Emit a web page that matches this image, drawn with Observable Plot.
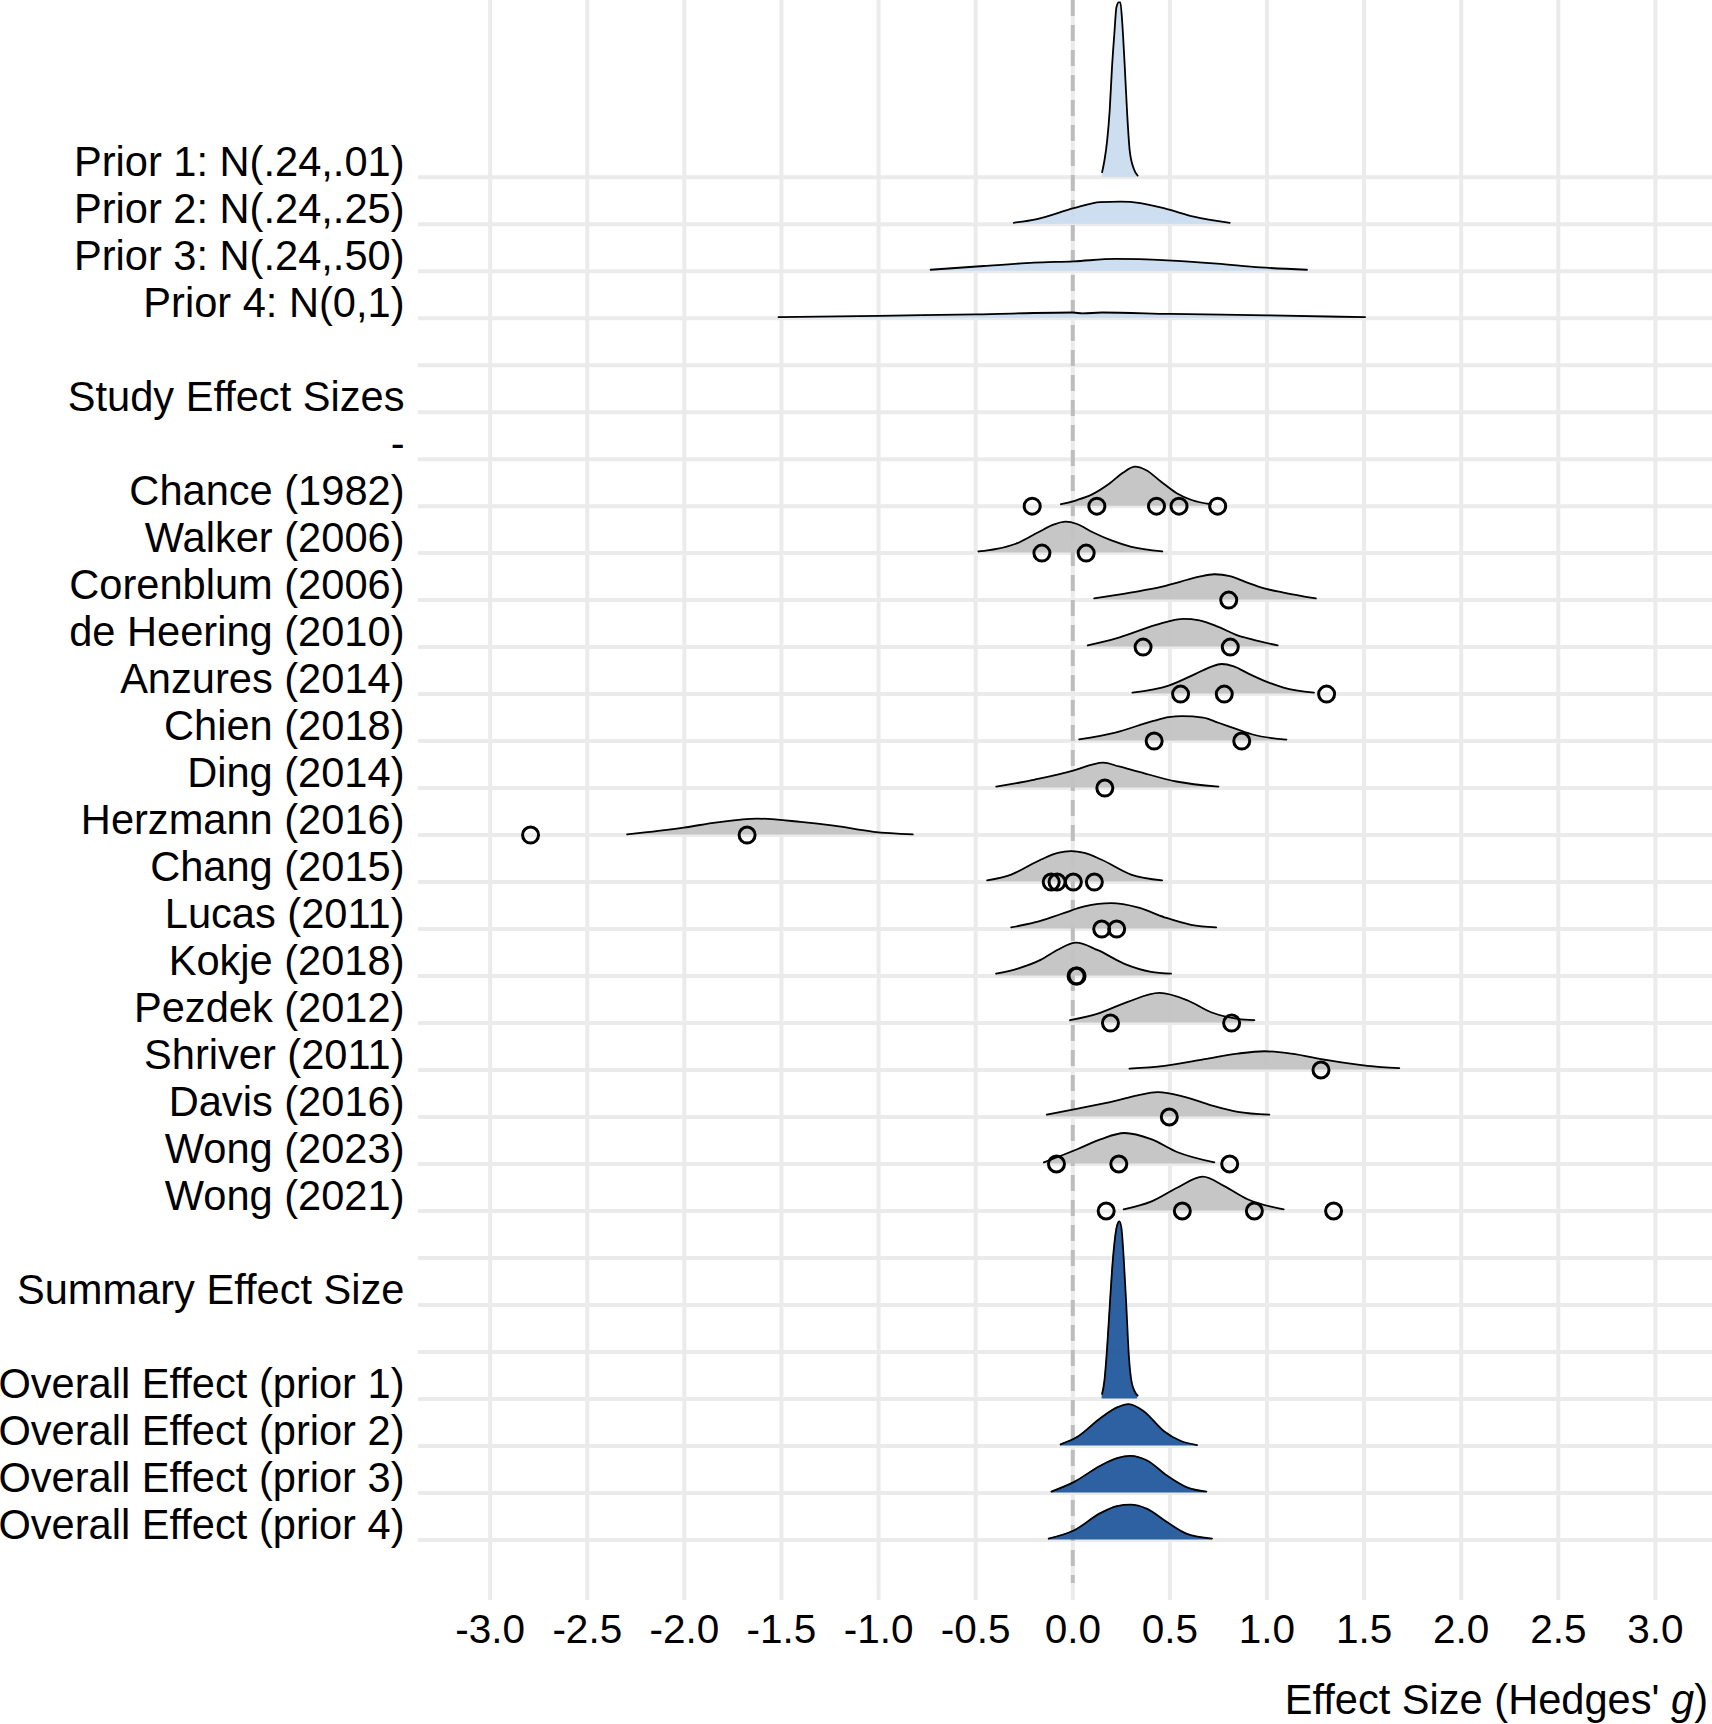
<!DOCTYPE html>
<html>
<head>
<meta charset="utf-8">
<script src="https://cdn.jsdelivr.net/npm/d3@7"></script>
<script src="https://cdn.jsdelivr.net/npm/@observablehq/plot@0.6"></script>
<style>
  body { margin: 0; background: #fff; }
  #chart svg { display: block; }
</style>
</head>
<body>
<div id="chart"></div>
<script>
// ---- Rows (top to bottom); blank strings are spacer rows ----
const rowLabels = [
  "Prior 1: N(.24,.01)", "Prior 2: N(.24,.25)", "Prior 3: N(.24,.50)", "Prior 4: N(0,1)",
  "", "Study Effect Sizes", "-",
  "Chance (1982)", "Walker (2006)", "Corenblum (2006)", "de Heering (2010)", "Anzures (2014)",
  "Chien (2018)", "Ding (2014)", "Herzmann (2016)", "Chang (2015)", "Lucas (2011)", "Kokje (2018)",
  "Pezdek (2012)", "Shriver (2011)", "Davis (2016)", "Wong (2023)", "Wong (2021)",
  "", "Summary Effect Size", "",
  "Overall Effect (prior 1)", "Overall Effect (prior 2)", "Overall Effect (prior 3)", "Overall Effect (prior 4)"
];

const xTicks = [-3, -2.5, -2, -1.5, -1, -0.5, 0, 0.5, 1, 1.5, 2, 2.5, 3];
const xLabel = "Effect Size (Hedges' ";
const xLabelItalic = "g";

// ---- Density curves: [g, height in row units] ----
const densPrior1 = [[0.151,0.106],[0.163,0.355],[0.177,0.78],[0.190,1.42],[0.202,2.34],[0.214,3.05],[0.225,3.62],[0.237,3.72],[0.245,3.72],[0.254,3.33],[0.266,2.48],[0.280,1.35],[0.293,0.57],[0.314,0.18],[0.334,0.035]];
const densPrior2 = [[-0.304,0.03],[-0.184,0.11],[0.005,0.34],[0.142,0.47],[0.245,0.48],[0.348,0.45],[0.485,0.32],[0.623,0.16],[0.808,0.03]];
const densPrior3 = [[-0.732,0.03],[-0.458,0.11],[-0.2,0.18],[0.005,0.21],[0.22,0.26],[0.485,0.23],[0.743,0.16],[0.966,0.08],[1.206,0.03]];
const densPrior4 = [[-1.515,0.02],[-1.0,0.05],[-0.5,0.08],[0.0,0.12],[0.05,0.1],[0.15,0.12],[0.5,0.09],[1.0,0.06],[1.505,0.02]];

const densChance = [[-0.061,0.04],[0.022,0.13],[0.100,0.25],[0.189,0.48],[0.258,0.71],[0.321,0.84],[0.376,0.77],[0.455,0.52],[0.533,0.28],[0.612,0.13],[0.711,0.04]];
const densWalker = [[-0.486,0.035],[-0.392,0.09],[-0.293,0.2],[-0.175,0.45],[-0.096,0.61],[-0.037,0.67],[0.022,0.62],[0.100,0.45],[0.199,0.27],[0.297,0.14],[0.461,0.035]];
const densCorenblum = [[0.110,0.035],[0.297,0.16],[0.455,0.28],[0.553,0.39],[0.652,0.5],[0.730,0.55],[0.809,0.51],[0.888,0.39],[0.986,0.25],[1.085,0.16],[1.252,0.035]];
const densDeHeering = [[0.077,0.035],[0.219,0.18],[0.396,0.43],[0.494,0.55],[0.569,0.6],[0.652,0.57],[0.75,0.43],[0.848,0.25],[0.927,0.16],[1.055,0.035]];
const densAnzures = [[0.307,0.03],[0.494,0.18],[0.632,0.43],[0.711,0.58],[0.766,0.64],[0.829,0.59],[0.907,0.43],[1.006,0.25],[1.085,0.14],[1.242,0.03]];
const densChien = [[0.033,0.035],[0.219,0.18],[0.415,0.43],[0.494,0.51],[0.563,0.53],[0.671,0.5],[0.75,0.39],[0.848,0.25],[0.927,0.14],[1.1,0.03]];
const densDing = [[-0.394,0.03],[-0.195,0.18],[0.002,0.37],[0.100,0.5],[0.156,0.54],[0.238,0.46],[0.337,0.35],[0.533,0.14],[0.75,0.03]];
const densHerzmann = [[-2.295,0.015],[-2.003,0.16],[-1.831,0.27],[-1.625,0.35],[-1.402,0.28],[-1.231,0.2],[-1.025,0.07],[-0.824,0.015]];
const densChang = [[-0.441,0.035],[-0.317,0.16],[-0.163,0.48],[-0.077,0.62],[-0.009,0.66],[0.06,0.62],[0.146,0.48],[0.300,0.16],[0.46,0.035]];
const densLucas = [[-0.317,0.035],[-0.197,0.14],[-0.06,0.32],[0.06,0.48],[0.197,0.55],[0.334,0.46],[0.472,0.25],[0.609,0.09],[0.738,0.035]];
const densKokje = [[-0.395,0.05],[-0.283,0.16],[-0.163,0.35],[-0.077,0.56],[0.017,0.71],[0.129,0.55],[0.266,0.26],[0.403,0.09],[0.506,0.05]];
const densPezdek = [[-0.014,0.06],[0.129,0.2],[0.283,0.45],[0.446,0.64],[0.592,0.48],[0.712,0.23],[0.849,0.09],[0.935,0.06]];
const densShriver = [[0.292,0.03],[0.472,0.09],[0.678,0.23],[0.849,0.35],[0.986,0.4],[1.124,0.35],[1.312,0.21],[1.518,0.09],[1.681,0.04]];
const densDavis = [[-0.134,0.05],[0.026,0.18],[0.214,0.34],[0.334,0.46],[0.437,0.53],[0.575,0.43],[0.712,0.25],[0.849,0.11],[1.012,0.05]];
const densWong2023 = [[-0.149,0.035],[0.026,0.32],[0.146,0.53],[0.266,0.66],[0.403,0.53],[0.54,0.25],[0.729,0.035]];
const densWong2021 = [[0.262,0.035],[0.403,0.2],[0.54,0.5],[0.669,0.73],[0.78,0.53],[0.9,0.25],[1.086,0.035]];

const densOverall1 = [[0.151,0.106],[0.163,0.39],[0.177,1.1],[0.190,1.95],[0.202,2.73],[0.214,3.3],[0.228,3.69],[0.240,3.78],[0.250,3.65],[0.262,3.01],[0.276,1.95],[0.288,0.96],[0.305,0.32],[0.334,0.07]];
const densOverall2 = [[-0.063,0.035],[0.022,0.19],[0.142,0.59],[0.228,0.82],[0.288,0.89],[0.365,0.74],[0.468,0.32],[0.554,0.11],[0.64,0.02]];
const densOverall3 = [[-0.11,0.03],[0.005,0.23],[0.142,0.58],[0.228,0.74],[0.297,0.79],[0.383,0.69],[0.485,0.37],[0.588,0.12],[0.688,0.03]];
const densOverall4 = [[-0.124,0.03],[0.005,0.2],[0.142,0.57],[0.228,0.72],[0.297,0.75],[0.383,0.66],[0.485,0.38],[0.588,0.13],[0.717,0.03]];

// ---- Individual study effect sizes (open circles) ----
const ptsChance = [-0.209, 0.124, 0.431, 0.547, 0.746];
const ptsWalker = [-0.159, 0.069];
const ptsCorenblum = [0.803];
const ptsDeHeering = [0.362, 0.811];
const ptsAnzures = [0.555, 0.780, 1.307];
const ptsChien = [0.419, 0.870];
const ptsDing = [0.165];
const ptsHerzmann = [-2.792, -1.677];
const ptsChang = [-0.111, -0.081, 0.003, 0.111];
const ptsLucas = [0.149, 0.226];
const ptsKokje = [0.017, 0.022];
const ptsPezdek = [0.194, 0.818];
const ptsShriver = [1.278];
const ptsDavis = [0.497];
const ptsWong2023 = [-0.084, 0.237, 0.808];
const ptsWong2021 = [0.172, 0.564, 0.935, 1.343];

// ---- Assemble ----
const ridges = [
  ["Prior 1: N(.24,.01)", "prior", densPrior1],
  ["Prior 2: N(.24,.25)", "prior", densPrior2],
  ["Prior 3: N(.24,.50)", "prior", densPrior3],
  ["Prior 4: N(0,1)", "prior", densPrior4],
  ["Chance (1982)", "study", densChance],
  ["Walker (2006)", "study", densWalker],
  ["Corenblum (2006)", "study", densCorenblum],
  ["de Heering (2010)", "study", densDeHeering],
  ["Anzures (2014)", "study", densAnzures],
  ["Chien (2018)", "study", densChien],
  ["Ding (2014)", "study", densDing],
  ["Herzmann (2016)", "study", densHerzmann],
  ["Chang (2015)", "study", densChang],
  ["Lucas (2011)", "study", densLucas],
  ["Kokje (2018)", "study", densKokje],
  ["Pezdek (2012)", "study", densPezdek],
  ["Shriver (2011)", "study", densShriver],
  ["Davis (2016)", "study", densDavis],
  ["Wong (2023)", "study", densWong2023],
  ["Wong (2021)", "study", densWong2021],
  ["Overall Effect (prior 1)", "overall", densOverall1],
  ["Overall Effect (prior 2)", "overall", densOverall2],
  ["Overall Effect (prior 3)", "overall", densOverall3],
  ["Overall Effect (prior 4)", "overall", densOverall4]
];
const studyPoints = [
  ["Chance (1982)", ptsChance], ["Walker (2006)", ptsWalker], ["Corenblum (2006)", ptsCorenblum],
  ["de Heering (2010)", ptsDeHeering], ["Anzures (2014)", ptsAnzures], ["Chien (2018)", ptsChien],
  ["Ding (2014)", ptsDing], ["Herzmann (2016)", ptsHerzmann], ["Chang (2015)", ptsChang],
  ["Lucas (2011)", ptsLucas], ["Kokje (2018)", ptsKokje], ["Pezdek (2012)", ptsPezdek],
  ["Shriver (2011)", ptsShriver], ["Davis (2016)", ptsDavis], ["Wong (2023)", ptsWong2023],
  ["Wong (2021)", ptsWong2021]
];

const rowIndex = (label) => rowLabels.indexOf(label);
const ridgeData = ridges.flatMap(([label, group, pts]) =>
  pts.map(([g, h]) => ({key: label, group, g, base: rowIndex(label), top: rowIndex(label) - h})));
const pointData = studyPoints.flatMap(([label, vals]) => vals.map(g => ({g, row: rowIndex(label)})));
const rows = d3.range(rowLabels.length);

const fills = {prior: "#c9dcef", study: "#c3c3c3", overall: "#22589c"};
const font = "'Liberation Sans', Arial, Helvetica, sans-serif";

const chart = Plot.plot({
  width: 1712,
  height: 1724,
  marginLeft: 418,
  marginRight: 0,
  marginTop: 0,
  marginBottom: 141,
  style: {fontFamily: font, background: "#fff", color: "black", overflow: "visible"},
  x: {domain: [-3.369, 3.294]},
  y: {domain: [-3.760, 29.927], range: [0, 1583]},
  marks: [
    Plot.gridX(xTicks, {stroke: "#ebebeb", strokeOpacity: 1, strokeWidth: 4}),
    Plot.ruleY(rows, {y: d => d, stroke: "#ebebeb", strokeWidth: 4}),
    Plot.ruleX([0], {stroke: "#bdbdbd", strokeWidth: 4, strokeDasharray: "16,9"}),
    ...["prior", "study", "overall"].map(grp =>
      Plot.areaY(ridgeData.filter(d => d.group === grp),
        {x: "g", y1: "base", y2: "top", z: "key", fill: fills[grp], fillOpacity: 0.95, curve: "monotone-x"})),
    Plot.lineY(ridgeData, {x: "g", y: "top", z: "key", stroke: "black", strokeWidth: 1.8, curve: "monotone-x"}),
    Plot.dot(pointData, {x: "g", y: "row", r: 8, stroke: "black", strokeWidth: 3, fill: "none"}),
    Plot.axisX(xTicks, {tickSize: 17, stroke: "#ebebeb", strokeWidth: 4, tickPadding: 14, fontSize: 40.5,
      fill: "black", tickFormat: d => d.toFixed(1), label: null}),
    Plot.axisY(rows, {tickSize: 0, tickPadding: 14, fontSize: 41.6, fill: "black",
      tickFormat: i => rowLabels[i], label: null, lineAnchor: "bottom", dy: -1})
  ]
});

const svg = d3.select(chart);
const t = svg.append("text")
  .attr("x", 1708).attr("y", 1714)
  .attr("text-anchor", "end")
  .attr("font-size", 41.6)
  .attr("font-family", font)
  .attr("fill", "black");
t.append("tspan").text(xLabel);
t.append("tspan").attr("font-style", "italic").text(xLabelItalic);
t.append("tspan").text(")");

document.getElementById("chart").append(chart);
</script>
</body>
</html>
